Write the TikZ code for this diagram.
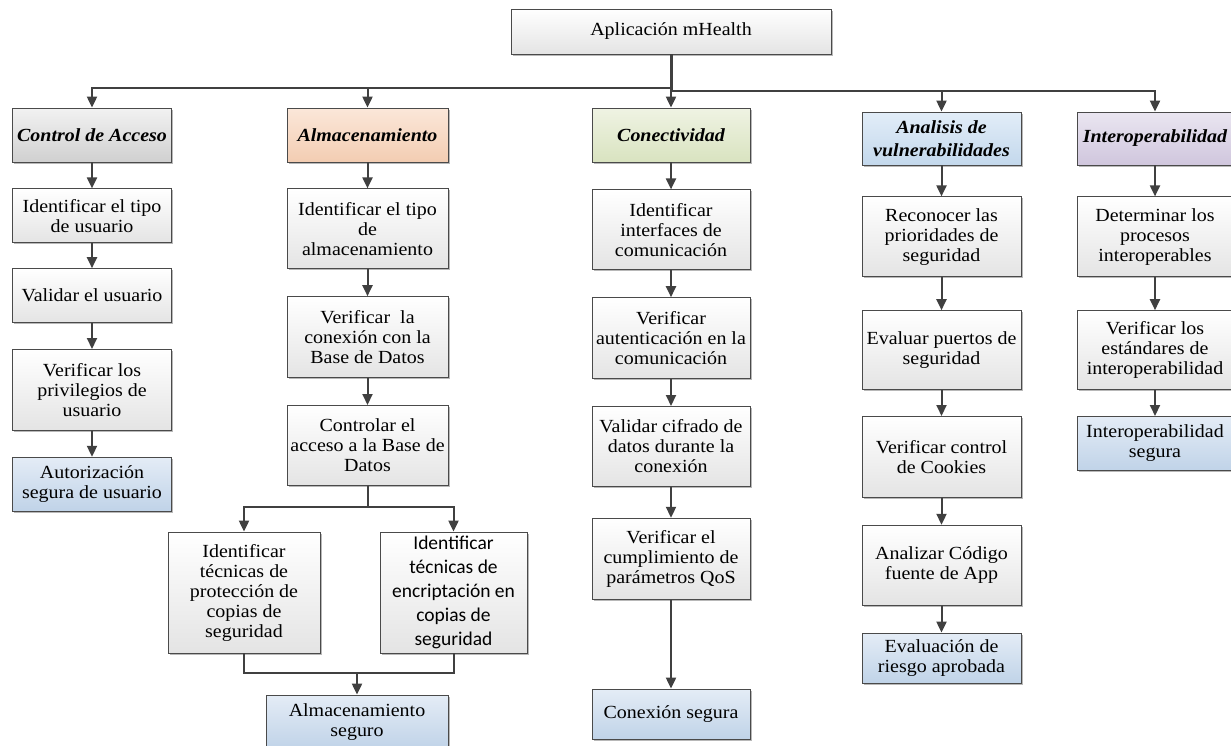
\documentclass[tikz,border=0pt]{standalone}
\usepackage{fontspec}
\setmainfont{Liberation Serif}[FakeStretch=1.08]
\newfontfamily\calfont{Carlito}
\usetikzlibrary{arrows.meta, positioning, shadows}

\definecolor{lineg}{HTML}{404040}
\definecolor{boxline}{HTML}{4A4A4A}
\definecolor{stepbot}{HTML}{E4E4E4}
\definecolor{acctop}{HTML}{F2F2F2}
\definecolor{accbot}{HTML}{D0D0D0}
\definecolor{almtop}{HTML}{FBE7D9}
\definecolor{almbot}{HTML}{F3CDB2}
\definecolor{contop}{HTML}{EFF3E3}
\definecolor{conbot}{HTML}{D9E3C0}
\definecolor{vultop}{HTML}{E2EDF8}
\definecolor{vulbot}{HTML}{C3D8EC}
\definecolor{inttop}{HTML}{EAE6F1}
\definecolor{intbot}{HTML}{D0C6DD}
\definecolor{restop}{HTML}{E4ECF6}
\definecolor{resbot}{HTML}{C0D3E8}

\begin{document}
\begin{tikzpicture}[
    x=1pt, y=-1pt,
    node distance=26pt,
    box/.style={
        draw=boxline, line width=0.8pt, align=center, inner sep=2pt,
        minimum width=159pt, minimum height=54pt,
        top color=white, bottom color=stepbot,
        font=\fontsize{18.5}{20}\selectfont,
        drop shadow={shadow xshift=1.6pt, shadow yshift=-1.6pt, fill=black!28, opacity=1}
    },
    head/.style={box, font=\fontsize{18.5}{22.5}\selectfont\bfseries\itshape},
    result/.style={box, top color=restop, bottom color=resbot},
    line/.style={draw=lineg, line width=2pt},
    arr/.style={line, -{Triangle[width=10pt,length=11pt]}}
]
    \useasboundingbox (0,0) rectangle (1231,745);

    \node[box, minimum width=320pt, minimum height=45pt] (app) at (671,31.5) {Aplicación mHealth};

    % cabeceras
    \node[head, top color=acctop, bottom color=accbot] (acc) at (92,135) {Control de Acceso};
    \node[head, minimum width=161pt, top color=almtop, bottom color=almbot] (alm) at (367.5,135) {Almacenamiento};
    \node[head, minimum width=158pt, top color=contop, bottom color=conbot] (con) at (671,135) {Conectividad};
    \node[head, minimum height=53pt, top color=vultop, bottom color=vulbot] (vul) at (941.5,138.5) {Analisis de\\vulnerabilidades};
    \node[head, minimum width=156pt, minimum height=53pt, top color=inttop, bottom color=intbot] (int) at (1155,138.5) {Interoperabilidad};

    % control de acceso
    \node[box] (acc1) [below=of acc] {Identificar el tipo\\de usuario};
    \node[box] (acc2) [below=25pt of acc1] {Validar el usuario};
    \node[box, minimum height=81pt] (acc3) [below=of acc2] {Verificar los\\privilegios de\\usuario};
    \node[result] (acc4) [below=of acc3] {Autorización\\segura de usuario};

    % almacenamiento
    \node[box, minimum width=161pt, minimum height=80pt] (alm1) [below=of alm] {Identificar el tipo\\de\\almacenamiento};
    \node[box, minimum width=161pt, minimum height=81pt] (alm2) [below=27pt of alm1] {Verificar \ la\\conexión con la\\Base de Datos};
    \node[box, minimum width=161pt, minimum height=80pt] (alm3) [below=27pt of alm2] {Controlar el\\acceso a la Base de\\Datos};
    \node[box, minimum width=152pt, minimum height=121pt] (bk1) at (244,592.5) {Identificar\\técnicas de\\protección de\\copias de\\seguridad};
    \node[box, minimum width=147pt, minimum height=121pt, font=\calfont\fontsize{19.5}{24}\selectfont] (bk2) at (453.5,592.5) {Identificar\\técnicas de\\encriptación en\\copias de\\seguridad};
    \node[result, minimum width=182pt, minimum height=54pt] (sto) at (357,722) {Almacenamiento\\seguro};

    % conectividad
    \node[box, minimum width=158pt, minimum height=80pt] (con1) [below=27pt of con] {Identificar\\interfaces de\\comunicación};
    \node[box, minimum width=158pt, minimum height=81pt] (con2) [below=27pt of con1] {Verificar\\autenticación en la\\comunicación};
    \node[box, minimum width=158pt, minimum height=80pt] (con3) [below=27pt of con2] {Validar cifrado de\\datos durante la\\conexión};
    \node[box, minimum width=158pt, minimum height=81pt] (con4) [below=31pt of con3] {Verificar el\\cumplimiento de\\parámetros QoS};
    \node[result, minimum width=158pt, minimum height=50pt] (con5) [below=89pt of con4] {Conexión segura};

    % vulnerabilidades
    \node[box, minimum height=80pt] (vul1) [below=31pt of vul] {Reconocer las\\prioridades de\\seguridad};
    \node[box, minimum height=79pt] (vul2) [below=33pt of vul1] {Evaluar puertos de\\seguridad};
    \node[box, minimum height=81pt] (vul3) [below=of vul2] {Verificar control\\de Cookies};
    \node[box, minimum height=80pt] (vul4) [below=27pt of vul3] {Analizar Código\\fuente de App};
    \node[result, minimum height=50pt] (vul5) [below=27pt of vul4] {Evaluación de\\riesgo aprobada};

    % interoperabilidad
    \node[box, minimum width=156pt, minimum height=80pt] (int1) [below=31pt of int] {Determinar los\\procesos\\interoperables};
    \node[box, minimum width=156pt, minimum height=79pt] (int2) [below=33pt of int1] {Verificar los\\estándares de\\interoperabilidad};
    \node[result, minimum width=156pt] (int3) [below=of int2] {Interoperabilidad\\segura};

    % bus superior
    \coordinate (busl) at (671,88);
    \coordinate (busr) at (671,91);
    \draw[line, line width=3pt] (app) -- (busr);
    \draw[arr] (busl) -| (acc);
    \draw[arr] (busl) -| (alm);
    \draw[arr] (app) -- (con);
    \draw[arr] (busr) -| (vul);
    \draw[arr] (busr) -| (int);

    \draw[arr] (acc) -- (acc1);
    \draw[arr] (acc1) -- (acc2);
    \draw[arr] (acc2) -- (acc3);
    \draw[arr] (acc3) -- (acc4);

    \draw[arr] (alm) -- (alm1);
    \draw[arr] (alm1) -- (alm2);
    \draw[arr] (alm2) -- (alm3);
    \draw[line] (alm3.south) -- ++(0,21) coordinate (split);
    \draw[arr] (split) -| (bk1);
    \draw[arr] (split) -| (bk2);
    \coordinate (merge) at (357,673);
    \draw[line] (bk1) |- (merge);
    \draw[line] (bk2) |- (merge);
    \draw[arr] (merge) -- (sto);

    \draw[arr] (con) -- (con1);
    \draw[arr] (con1) -- (con2);
    \draw[arr] (con2) -- (con3);
    \draw[arr] (con3) -- (con4);
    \draw[arr] (con4) -- (con5);

    \draw[arr] (vul) -- (vul1);
    \draw[arr] (vul1) -- (vul2);
    \draw[arr] (vul2) -- (vul3);
    \draw[arr] (vul3) -- (vul4);
    \draw[arr] (vul4) -- (vul5);

    \draw[arr] (int) -- (int1);
    \draw[arr] (int1) -- (int2);
    \draw[arr] (int2) -- (int3);
\end{tikzpicture}
\end{document}
